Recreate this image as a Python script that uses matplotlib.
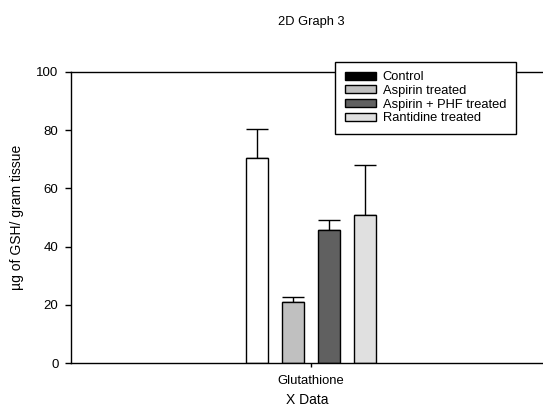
import matplotlib
matplotlib.use("Agg")
import matplotlib.pyplot as plt
from matplotlib.patches import Patch

plt.rcParams['font.family'] = ['Liberation Sans', 'DejaVu Sans']

categories = ["Glutathione"]
series = ["Control", "Aspirin treated", "Aspirin + PHF treated", "Rantidine treated"]
values = [70.3, 21.0, 45.7, 51.0]
errors = [10.0, 1.6, 3.3, 17.0]
bar_colors = ["#ffffff", "#c0c0c0", "#606060", "#e0e0e0"]
legend_colors = ["#000000", "#c0c0c0", "#606060", "#e0e0e0"]
yticks = [0, 20, 40, 60, 80, 100]

fig = plt.figure(figsize=(5.43, 4.08), dpi=100)
ax = fig.add_axes([71/543, 1-363/408, 1-71/543, (363-72)/408])

spacing = 1.0
width = 22/36
offsets = [(i - 1.5) * spacing for i in range(len(series))]
for off, v, e, c in zip(offsets, values, errors, bar_colors):
    ax.bar(0 + off, v, width=width, color=c, edgecolor="black", linewidth=1.0, zorder=2)
    ax.errorbar(0 + off, v, yerr=[[0], [e]], fmt='none', ecolor='black',
                elinewidth=1.0, capsize=7.7, capthick=1.0, zorder=1)

ax.set_xlim(-240/36, 232/36)
ax.set_ylim(0, 100)
ax.set_xticks([0])
ax.set_xticklabels(categories, fontsize=9.4)
ax.set_yticks(yticks)
ax.set_yticklabels([str(t) for t in yticks], fontsize=9.5)
ax.tick_params(axis='y', direction='out', length=4, width=1, pad=5)
ax.tick_params(axis='x', direction='out', length=3, width=1, pad=6)
for s in ['left', 'bottom', 'top']:
    ax.spines[s].set_linewidth(1.0)
ax.spines['right'].set_visible(False)

ax.set_ylabel("µg of GSH/ gram tissue", fontsize=10, labelpad=8.5)
ax.set_xlabel("X Data", fontsize=10, labelpad=4)
fig.text(311/543, 1-22/408, "2D Graph 3", ha='center', va='center', fontsize=9.3)

handles = [Patch(facecolor=c, edgecolor='black', linewidth=1.0) for c in legend_colors]
leg = fig.legend(handles, series, loc='upper left', bbox_to_anchor=(335/543, 1-61.5/408),
                 fontsize=9.3, frameon=True, fancybox=False, framealpha=1,
                 edgecolor='black', handlelength=2.4, handleheight=0.55,
                 labelspacing=0.13, borderpad=0.75, handletextpad=0.55, borderaxespad=0)
leg.get_frame().set_linewidth(1.0)

fig.savefig("out.png", dpi=100)
